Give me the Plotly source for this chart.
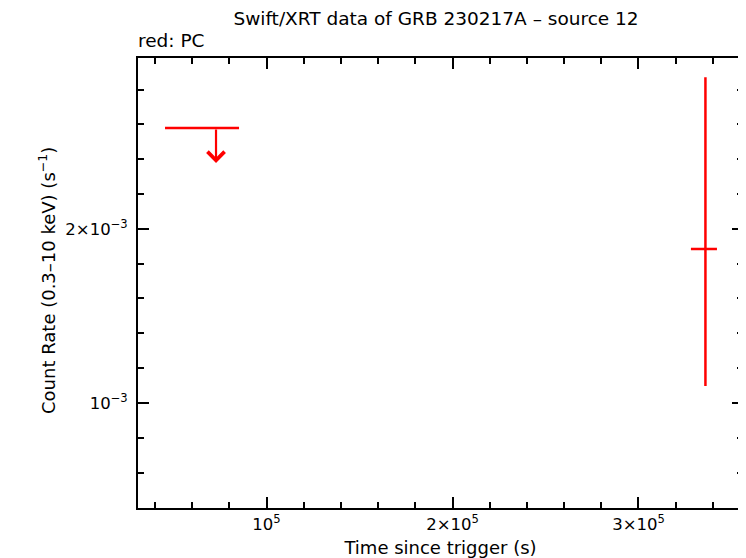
import numpy as np
import plotly.graph_objects as go

# ---- data ----
# detection (PC mode)
det_t = [336000]
det_t_lo = [328200]
det_t_hi = [342200]
det_rate = [1.846e-3]
det_rate_lo = [1.070e-3]
det_rate_hi = [3.66e-3]

# upper limit (PC mode)
ul_t = [72850]
ul_t_lo = [45430]
ul_t_hi = [85220]
ul_rate = [2.99e-3]

x_tickvals = [1e5, 2e5, 3e5]
x_ticktext = ["10<sup>5</sup>", "2×10<sup>5</sup>", "3×10<sup>5</sup>"]
y_tickvals = [1e-3, 2e-3]
y_ticktext = ["10<sup>−3</sup>", "2×10<sup>−3</sup>"]

x_range = [30900, 356200]
y_range = [6.58e-4, 3.95e-3]

RED = "#ff0000"
FONT = "DejaVu Sans, Liberation Sans, sans-serif"

fig = go.Figure()

# detection with error bars
fig.add_trace(go.Scatter(
    x=det_t, y=det_rate, mode="markers",
    marker=dict(size=1, color="rgba(0,0,0,0)"),
    error_x=dict(type="data", symmetric=False,
                 array=[h - t for h, t in zip(det_t_hi, det_t)],
                 arrayminus=[t - l for t, l in zip(det_t, det_t_lo)],
                 color=RED, thickness=2.5, width=0),
    error_y=dict(type="data", symmetric=False,
                 array=[h - r for h, r in zip(det_rate_hi, det_rate)],
                 arrayminus=[r - l for r, l in zip(det_rate, det_rate_lo)],
                 color=RED, thickness=2.5, width=0),
    showlegend=False, hoverinfo="skip"))

# upper limit bar
fig.add_trace(go.Scatter(
    x=ul_t, y=ul_rate, mode="markers",
    marker=dict(size=1, color="rgba(0,0,0,0)"),
    error_x=dict(type="data", symmetric=False,
                 array=[h - t for h, t in zip(ul_t_hi, ul_t)],
                 arrayminus=[t - l for t, l in zip(ul_t, ul_t_lo)],
                 color=RED, thickness=2.5, width=0),
    showlegend=False, hoverinfo="skip"))

# upper-limit arrows
for t, r in zip(ul_t, ul_rate):
    fig.add_annotation(
        x=t, y=np.log10(r * 0.87), ax=t, ay=np.log10(r),
        xref="x", yref="y", axref="x", ayref="y",
        showarrow=True, arrowhead=4, arrowsize=1.5, arrowwidth=2.2,
        arrowcolor=RED, text="", standoff=0, startstandoff=0)

# minor tick positions
x_minor = list(np.arange(40000, 360000, 20000))
y_minor = [1e-3 * 2 ** (k / 5) for k in range(-3, 10)]

axis_common = dict(
    showline=True, linecolor="black", linewidth=2, mirror="allticks",
    ticks="inside", ticklen=11, tickwidth=2, tickcolor="black",
    showgrid=False, zeroline=False, automargin=False,
    tickfont=dict(family=FONT, size=16.5, color="black"),
)

fig.update_xaxes(
    type="linear", range=x_range,
    tickmode="array", tickvals=x_tickvals, ticktext=x_ticktext,
    minor=dict(tickmode="array", tickvals=x_minor, ticks="inside",
               ticklen=6, tickwidth=2, tickcolor="black", showgrid=False),
    title=dict(text="Time since trigger (s)",
               font=dict(family=FONT, size=18, color="black")),
    **axis_common)

fig.update_yaxes(
    type="log", range=[np.log10(y_range[0]), np.log10(y_range[1])],
    tickmode="array", tickvals=y_tickvals, ticktext=y_ticktext,
    ticklabelstandoff=5,
    minor=dict(tickmode="array", tickvals=y_minor, ticks="inside",
               ticklen=6, tickwidth=2, tickcolor="black", showgrid=False),
    **axis_common)

# the page body adds an 8 px offset; size the figure so the plot area lands
# where the reference has it
fig.update_layout(
    width=738, height=550,
    margin=dict(l=130, r=3, t=50, b=50),
    paper_bgcolor="white", plot_bgcolor="white",
    title=dict(text="Swift/XRT data of GRB 230217A – source 12",
               x=0.58, xanchor="center", y=0.98, yanchor="middle",
               xref="container", yref="container",
               font=dict(family=FONT, size=18.5, color="black")),
    annotations=list(fig.layout.annotations) + [
        dict(text="red: PC", xref="paper", yref="paper", x=0, y=1.0,
             xanchor="left", yanchor="bottom", yshift=5, xshift=-2,
             showarrow=False,
             font=dict(family=FONT, size=18.5, color="black")),
        dict(text="Count Rate (0.3–10 keV) (s<sup>−1</sup>)",
             xref="paper", yref="paper", x=-0.15, y=0.505,
             xanchor="center", yanchor="middle", textangle=-90,
             showarrow=False,
             font=dict(family=FONT, size=18, color="black")),
    ],
)

fig.write_html("out.html")
